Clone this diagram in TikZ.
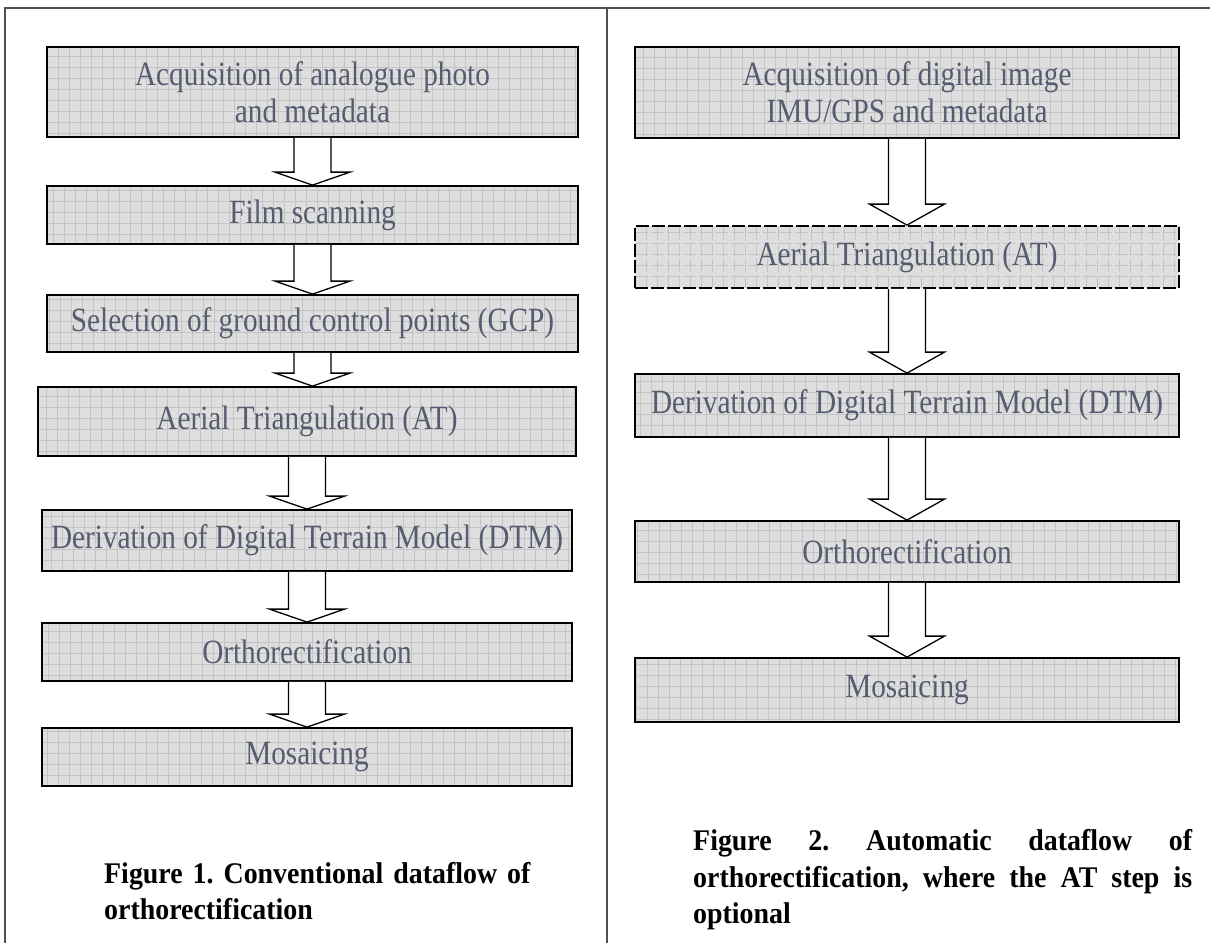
\documentclass[tikz,border=0pt]{standalone}
\usepackage{fontspec}
\setmainfont{Liberation Serif}[FakeStretch=0.86]
\newfontfamily\capfont{Liberation Serif}[FakeStretch=0.93]
\usepackage{tikz}
\usetikzlibrary{calc}
\usetikzlibrary{positioning}
\frenchspacing
\definecolor{boxgray}{RGB}{222,222,222}
\definecolor{gridgray}{RGB}{196,196,196}
\definecolor{labelblue}{RGB}{86,92,112}
\definecolor{framegray}{RGB}{80,80,80}
\tikzstyle{procbox}=[draw=black, line width=1.8pt, fill=boxgray, align=center, text=labelblue, inner sep=0pt, font=\fontsize{34}{37}\selectfont, path picture={\draw[gridgray, line width=0.6pt, step=11pt] (path picture bounding box.south west) grid (path picture bounding box.north east);}]
\tikzstyle{optbox}=[procbox, dash pattern=on 13pt off 3pt]
\tikzstyle{flowarrow}=[draw=black, line width=1.3pt, fill=white, line join=miter]
\tikzstyle{capstyle}=[anchor=north west, inner sep=0pt, font=\capfont\bfseries\fontsize{30}{36.5}\selectfont]
% block arrow from the bottom of #2 to the top of #3, head length #1
\newcommand{\dfarrow}[3][13pt]{\draw [flowarrow] let \p1=(#2.south), \p2=(#3.north) in (\x1-18.5pt,\y1) -- (\x1-18.5pt,\y2+#1) -- (\x1-37.5pt,\y2+#1) -- (\x1,\y2) -- (\x1+37.5pt,\y2+#1) -- (\x1+18.5pt,\y2+#1) -- (\x1+18.5pt,\y1);}

\begin{document}
\begin{tikzpicture}[x=1pt, y=-1pt]
\useasboundingbox (0,0) rectangle (1210,943);
\draw [framegray, line width=1.6pt] (1210,8) -- (5,8) -- (5,943);
\draw [framegray, line width=1.6pt] (607,8) -- (607,943);

% conventional dataflow
\node [procbox, minimum width=531, minimum height=90] (acqA) at (312.5,92) {Acquisition of analogue photo\\and metadata};
\node [procbox, minimum width=531, minimum height=58] (scanA) at (312.5,215) {Film scanning};
\node [procbox, minimum width=531, minimum height=57] (gcpA) at (312.5,323.5) {Selection of ground control points (GCP)};
\node [procbox, minimum width=538, minimum height=69] (atA) at (307,421.5) {Aerial Triangulation (AT)};
\node [procbox, minimum width=530, minimum height=61] (dtmA) at (307,540.5) {Derivation of Digital Terrain Model (DTM)};
\node [procbox, minimum width=530, minimum height=58] (orthoA) at (307,652) {Orthorectification};
\node [procbox, minimum width=530, minimum height=58] (mosA) at (307,757) {Mosaicing};
\dfarrow{acqA}{scanA}
\dfarrow{scanA}{gcpA}
\dfarrow{gcpA}{atA}
\dfarrow{atA}{dtmA}
\dfarrow{dtmA}{orthoA}
\dfarrow{orthoA}{mosA}

% automatic dataflow
\node [procbox, minimum width=544, minimum height=91] (acqB) at (907,92.5) {Acquisition of digital image\\IMU/GPS and metadata};
\node [optbox, minimum width=544, minimum height=62] (atB) at (907,257) {Aerial Triangulation (AT)};
\node [procbox, minimum width=544, minimum height=63] (dtmB) at (907,405.5) {Derivation of Digital Terrain Model (DTM)};
\node [procbox, minimum width=544, minimum height=61] (orthoB) at (907,551.5) {Orthorectification};
\node [procbox, minimum width=544, minimum height=64] (mosB) at (907,690) {Mosaicing};
\dfarrow[21pt]{acqB}{atB}
\dfarrow[21pt]{atB}{dtmB}
\dfarrow[21pt]{dtmB}{orthoB}
\dfarrow[21pt]{orthoB}{mosB}

% captions
\node [capstyle, text width=440, align=left] (capA) at (104,862) {Figure 1. Conventional dataflow of\\orthorectification};
\node [capstyle, text width=499, align=justify] (capB) at (693,829.5) {\noindent Figure 2. Automatic dataflow of\linebreak orthorectification, where the AT step is\linebreak optional};
\end{tikzpicture}
\end{document}
